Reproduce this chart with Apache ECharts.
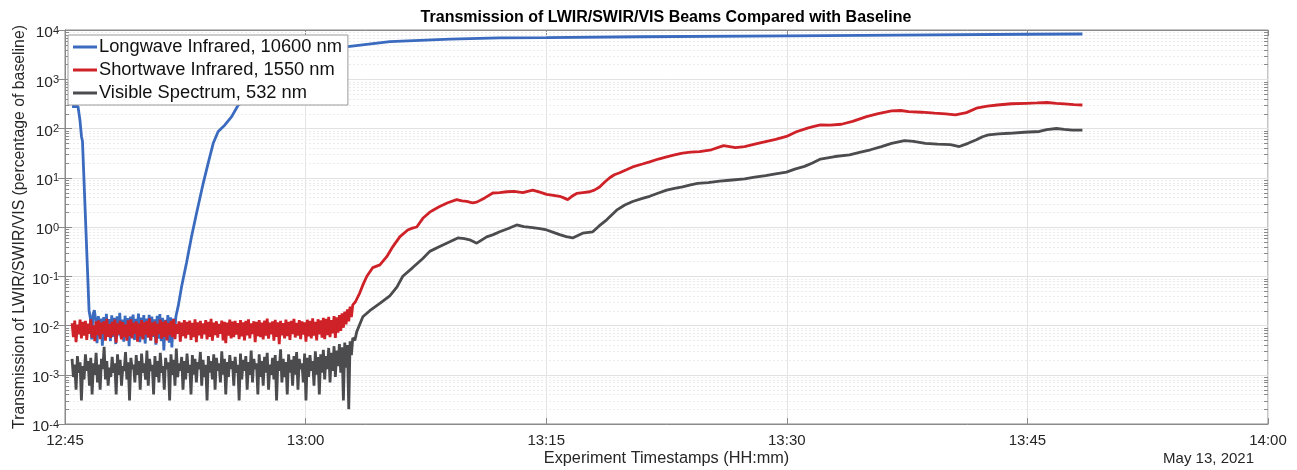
<!DOCTYPE html>
<html>
<head>
<meta charset="utf-8">
<script src="https://cdn.jsdelivr.net/npm/echarts@6/dist/echarts.min.js"></script>
<style>html,body{margin:0;padding:0;background:#fff}#main{width:1297px;height:470px}</style>
</head>
<body>
<div id="main"></div>
<script>
// x values are minutes after 12:45, y values are percent of baseline
var names = ['Longwave Infrared, 10600 nm', 'Shortwave Infrared, 1550 nm', 'Visible Spectrum, 532 nm'];
var colors = ['#3b6bbf', '#cf2128', '#4c4b4e'];
var STEP = 1 / 12; // logger sample spacing in the noisy part (5 s)

// LWIR
var blueHeadT = [0.44, 0.81, 0.93, 1.03, 1.09, 1.5];
var blueHeadV = [280, 280, 150, 68, 55, 0.02];
var blueNoiseStart = 1.58;
var blueNoiseV = [0.0142, 0.0052, 0.0168, 0.0205, 0.0131, 0.0044, 0.0155, 0.0061, 0.0138, 0.0039,
  0.0149, 0.0057, 0.0172, 0.0066, 0.0135, 0.0048, 0.0161, 0.0059, 0.0144, 0.0042,
  0.0153, 0.0063, 0.0181, 0.0055, 0.0132, 0.0047, 0.0158, 0.0062, 0.0141, 0.0038,
  0.0151, 0.0058, 0.0166, 0.0051, 0.0137, 0.0064, 0.0174, 0.0046, 0.0145, 0.0056,
  0.0162, 0.0043, 0.0139, 0.0061, 0.0165, 0.0050, 0.0152, 0.0059, 0.0134, 0.0041,
  0.0157, 0.0054, 0.0171, 0.0048, 0.0143, 0.0031, 0.0131, 0.0057, 0.0163, 0.0045,
  0.0147, 0.0036, 0.0138, 0.0072, 0.0152];
var blueTailT = [7.06, 7.27, 7.58, 7.89, 8.2, 8.62, 8.93, 9.24, 9.55, 9.97, 10.39, 10.8, 12.15, 13.4, 14.64,
  15.89, 17.63, 20.25, 24.0, 27.1, 30.0, 35.8, 45.0, 52.0, 60.0, 63.43];
var blueTailV = [0.025, 0.062, 0.19, 0.64, 1.9, 7.8, 20, 50, 87, 118, 174, 300, 600, 1100, 1900,
  3000, 4600, 5800, 6500, 6900, 7000, 7300, 7600, 7900, 8200, 8300];

// SWIR
var redNoiseStart = 0.44;
var redNoiseV = [0.0112, 0.0058, 0.0126, 0.0046, 0.0104, 0.0066, 0.0131, 0.0055, 0.0118, 0.0062,
  0.0124, 0.0051, 0.0109, 0.0068, 0.0133, 0.0057, 0.0101, 0.0048, 0.0121, 0.0064,
  0.0127, 0.0053, 0.0114, 0.0067, 0.0122, 0.0049, 0.0136, 0.0059, 0.0107, 0.0056,
  0.0119, 0.0063, 0.0132, 0.0045, 0.0111, 0.0066, 0.0125, 0.0052, 0.0117, 0.0058,
  0.0104, 0.0049, 0.0128, 0.0061, 0.0134, 0.0055, 0.0113, 0.0068, 0.0121, 0.0047,
  0.0109, 0.0060, 0.0129, 0.0052, 0.0116, 0.0065, 0.0124, 0.0057, 0.0139, 0.0050,
  0.0115, 0.0062, 0.0121, 0.0044, 0.0108, 0.0067, 0.0131, 0.0054, 0.0118, 0.0059,
  0.0126, 0.0050, 0.0112, 0.0064, 0.0124, 0.0058, 0.0135, 0.0053, 0.0107, 0.0068,
  0.0121, 0.0047, 0.0115, 0.0061, 0.0129, 0.0055, 0.0118, 0.0065, 0.0126, 0.0051,
  0.0113, 0.0058, 0.0133, 0.0046, 0.0116, 0.0063, 0.0124, 0.0054, 0.0111, 0.0066,
  0.0128, 0.0052, 0.0119, 0.0059, 0.0137, 0.0049, 0.0114, 0.0064, 0.0122, 0.0057,
  0.0108, 0.0068, 0.0126, 0.0050, 0.0118, 0.0044, 0.0115, 0.0062, 0.0131, 0.0055,
  0.0120, 0.0058, 0.0124, 0.0065, 0.0112, 0.0053, 0.0129, 0.0060, 0.0116, 0.0050,
  0.0125, 0.0063, 0.0133, 0.0055, 0.0110, 0.0067, 0.0122, 0.0046, 0.0118, 0.0061,
  0.0128, 0.0058, 0.0114, 0.0052, 0.0126, 0.0062, 0.0138, 0.0054, 0.0115, 0.0066,
  0.0121, 0.0049, 0.0130, 0.0059, 0.0116, 0.0042, 0.0124, 0.0063, 0.0112, 0.0055,
  0.0132, 0.0061, 0.0119, 0.0051, 0.0125, 0.0067, 0.0136, 0.0057, 0.0113, 0.0062,
  0.0128, 0.0053, 0.0121, 0.0065, 0.0116, 0.0047, 0.0131, 0.0060, 0.0124, 0.0055,
  0.0140, 0.0062, 0.0118, 0.0050, 0.0134, 0.0066, 0.0127, 0.0057, 0.0143, 0.0053,
  0.0136, 0.0064, 0.0150, 0.0058, 0.0129, 0.0069, 0.0156, 0.0056, 0.0146, 0.0072,
  0.0163, 0.0078, 0.0176, 0.0090, 0.0192, 0.0105, 0.0212, 0.0121, 0.0242, 0.0148,
  0.0262];
var redTailT = [18.1, 18.38, 18.6, 18.82, 19.19, 19.63, 20.06, 20.44, 20.87, 21.37,
  21.65, 21.93, 22.31, 22.74, 23.05, 23.36, 23.86, 24.42, 24.75, 25.05,
  25.4, 25.67, 26.17, 26.67, 27.1, 27.54, 28.0, 28.54, 28.85, 29.16,
  29.6, 30.03, 30.45, 30.84, 31.1, 31.34, 31.6, 31.9, 32.3, 32.71,
  33.0, 33.33, 33.65, 33.96, 34.25, 34.58, 35.0, 35.39, 36.0, 36.45,
  37.0, 37.51, 38.0, 38.5, 39.0, 39.56, 40.3, 41.06, 41.8, 42.37,
  43.0, 43.68, 44.3, 44.98, 45.6, 46.29, 46.7, 47.1, 47.7, 48.41,
  49.1, 49.97, 50.7, 51.53, 52.1, 52.59, 53.4, 54.2, 54.9, 55.51,
  56.2, 56.82, 57.5, 58.13, 59.0, 59.94, 60.6, 61.25, 61.8, 62.3,
  62.9, 63.43];
var redTailV = [0.03, 0.046, 0.07, 0.10, 0.15, 0.17, 0.25, 0.40, 0.63, 0.87,
  0.95, 1.0, 1.5, 2.0, 2.3, 2.6, 3.1, 3.6, 3.4, 3.3,
  3.1, 3.2, 3.9, 4.9, 5.0, 5.2, 5.3, 5.0, 5.3, 5.6,
  5.1, 4.6, 4.4, 4.2, 3.9, 3.6, 4.2, 4.8, 5.0, 5.2,
  5.6, 6.5, 8.2, 10, 11.5, 12.6, 14.5, 16.6, 19, 21,
  24, 26.5, 29, 31.6, 33, 34, 37, 45, 41, 43,
  48, 54, 60, 69, 86, 102, 110, 118, 117, 122,
  140, 174, 200, 228, 232, 220, 214, 205, 198, 190,
  210, 258, 285, 300, 318, 325, 330, 337, 325, 316,
  305, 300];

// VIS
var grayNoiseStart = 0.44;
var grayNoiseV = [0.0021, 0.0009, 0.0016, 0.0005, 0.0024, 0.0011, 0.0018, 0.0003, 0.0015, 0.0008,
  0.0026, 0.0012, 0.0019, 0.0006, 0.0022, 0.0004, 0.0017, 0.0010, 0.0028, 0.0007,
  0.0016, 0.0005, 0.0021, 0.0013, 0.0037, 0.0008, 0.0019, 0.0006, 0.0014, 0.0009,
  0.0023, 0.0011, 0.0017, 0.0004, 0.0026, 0.0010, 0.0020, 0.0006, 0.0015, 0.0012,
  0.0029, 0.0008, 0.0018, 0.0003, 0.0022, 0.0013, 0.0016, 0.0007, 0.0025, 0.0010,
  0.0019, 0.0005, 0.0027, 0.0011, 0.0017, 0.0008, 0.0031, 0.0006, 0.0021, 0.0012,
  0.0016, 0.0004, 0.0024, 0.0009, 0.0019, 0.0007, 0.0028, 0.0011, 0.0015, 0.0005,
  0.0022, 0.0013, 0.0018, 0.0003, 0.0026, 0.0010, 0.0020, 0.0006, 0.0034, 0.0009,
  0.0017, 0.0012, 0.0023, 0.0005, 0.0019, 0.0008, 0.0027, 0.0011, 0.0016, 0.0004,
  0.0025, 0.0010, 0.0021, 0.0007, 0.0018, 0.0013, 0.0029, 0.0006, 0.0020, 0.0009,
  0.0016, 0.0003, 0.0024, 0.0011, 0.0019, 0.0008, 0.0026, 0.0005, 0.0022, 0.0012,
  0.0017, 0.0007, 0.0030, 0.0010, 0.0021, 0.0004, 0.0018, 0.0009, 0.0025, 0.0013,
  0.0019, 0.0006, 0.0023, 0.0011, 0.0016, 0.0003, 0.0027, 0.0008, 0.0020, 0.0012,
  0.0024, 0.0005, 0.0018, 0.0010, 0.0031, 0.0007, 0.0021, 0.0013, 0.0017, 0.0004,
  0.0026, 0.0009, 0.0019, 0.0006, 0.0023, 0.0011, 0.0028, 0.0005, 0.0016, 0.0010,
  0.0022, 0.0008, 0.0025, 0.0003, 0.0019, 0.0012, 0.0033, 0.0007, 0.0021, 0.0009,
  0.0018, 0.0004, 0.0026, 0.0011, 0.0020, 0.0006, 0.0024, 0.0010, 0.0029, 0.0005,
  0.0021, 0.0013, 0.0017, 0.0007, 0.0027, 0.0003, 0.0022, 0.0009, 0.0025, 0.0012,
  0.0019, 0.0006, 0.0030, 0.0010, 0.0023, 0.0004, 0.0026, 0.0011, 0.0032, 0.0008,
  0.0024, 0.0013, 0.0035, 0.0007, 0.0028, 0.0012, 0.0038, 0.0009, 0.0031, 0.0015,
  0.0042, 0.0011, 0.0036, 0.0003, 0.0045, 0.0014, 0.0040, 0.0002, 0.0048, 0.0025,
  0.0056];
var grayTailT = [18.07, 18.19, 18.57, 19.0, 19.63, 20.25, 20.69, 21.06, 21.68, 22.31,
  22.74, 23.36, 23.99, 24.49, 24.9, 25.23, 25.67, 26.29, 26.7, 27.1,
  27.6, 28.16, 28.6, 29.16, 29.6, 30.03, 30.45, 30.84, 31.25, 31.65,
  32.27, 32.9, 33.3, 33.77, 34.39, 34.9, 35.39, 36.0, 36.45, 37.0,
  37.51, 38.0, 38.5, 39.0, 39.44, 40.1, 40.81, 41.6, 42.37, 43.0,
  43.68, 44.3, 44.98, 45.5, 46.1, 46.6, 47.1, 48.0, 48.91, 49.6,
  50.22, 50.9, 51.53, 52.34, 52.9, 53.64, 54.4, 55.2, 55.76, 56.3,
  56.82, 57.2, 57.57, 58.2, 58.88, 59.8, 60.75, 61.2, 61.81, 62.3,
  62.8, 63.43];
var grayTailV = [0.005, 0.0075, 0.015, 0.02, 0.028, 0.04, 0.06, 0.1, 0.15, 0.23,
  0.32, 0.4, 0.5, 0.6, 0.58, 0.55, 0.47, 0.63, 0.7, 0.8,
  0.92, 1.1, 1.02, 0.97, 0.93, 0.87, 0.78, 0.7, 0.64, 0.6,
  0.75, 0.8, 1.05, 1.4, 2.2, 2.8, 3.3, 3.8, 4.2, 4.9,
  5.6, 6.1, 6.5, 7.2, 7.7, 8.0, 8.5, 9.0, 9.5, 10.3,
  11, 12, 13, 15, 17, 20, 24, 27, 29, 33,
  37, 43, 50, 57, 55, 50, 48, 47, 43, 50,
  59, 68, 74, 78, 80, 84, 87, 95, 100, 96,
  93, 93];

var xTicks = [0, 15, 30, 45, 60, 75];

function pairs(ts, vs) { return ts.map(function (t, i) { return [t, vs[i]]; }); }
function sampled(start, vs) { return vs.map(function (v, i) { return [start + i * STEP, v]; }); }

var blueData = pairs(blueHeadT, blueHeadV).concat(sampled(blueNoiseStart, blueNoiseV), pairs(blueTailT, blueTailV));
var redData = sampled(redNoiseStart, redNoiseV).concat(pairs(redTailT, redTailV));
var grayData = sampled(grayNoiseStart, grayNoiseV).concat(pairs(grayTailT, grayTailV));

// log minor grid values 2..9 per decade
var minorVals = [];
for (var e = -4; e < 4; e++) {
  for (var k = 2; k <= 9; k++) minorVals.push([0, +(k * Math.pow(10, e)).toPrecision(3)]);
}

var FONT = 'Liberation Sans';
var axisGray = '#8a8a8a';
var txt = '#262626';

function hhmm(v) {
  var m = 12 * 60 + 45 + v;
  var h = Math.floor(m / 60), mm = Math.round(m % 60);
  return h + ':' + (mm < 10 ? '0' : '') + mm;
}

var chart = echarts.init(document.getElementById('main'));
var option = {
  animation: false,
  textStyle: { fontFamily: FONT },
  grid: { left: 65, right: 29, top: 30, bottom: 46, containLabel: false, outerBoundsMode: 'none',
    show: true, borderColor: axisGray, borderWidth: 1 },
  legend: {
    data: names, orient: 'vertical', left: 68, top: 35,
    icon: 'rect', itemWidth: 24, itemHeight: 3, itemGap: 5,
    backgroundColor: '#fff', borderColor: '#9a9a9a', borderWidth: 1, borderRadius: 0,
    padding: [3, 6, 3, 5],
    textStyle: { fontSize: 18.3, lineHeight: 18, color: '#111', fontFamily: FONT, padding: [0, 0, 0, -3] }
  },
  graphic: [
    { type: 'text', x: 666, y: 18, style: { text: 'Transmission of LWIR/SWIR/VIS Beams Compared with Baseline',
      font: 'bold 16px "Liberation Sans"', fill: '#000', textAlign: 'center', textVerticalAlign: 'middle' } },
    { type: 'text', x: 1254, y: 459, style: { text: 'May 13, 2021',
      font: '15px "Liberation Sans"', fill: txt, textAlign: 'right', textVerticalAlign: 'middle' } }
  ],
  xAxis: [{
    type: 'value', min: 0, max: 75, interval: 15,
    name: 'Experiment Timestamps (HH:mm)', nameLocation: 'middle', nameGap: 27, nameMoveOverlap: false,
    nameTextStyle: { fontSize: 16.3, color: txt },
    axisLine: { lineStyle: { color: axisGray } },
    axisTick: { inside: true, length: 6, lineStyle: { color: axisGray } },
    axisLabel: { fontSize: 15, color: txt, margin: 9, formatter: hhmm, customValues: xTicks },
    splitLine: { show: true, lineStyle: { color: '#e4e4e4', width: 1 } }
  }, {
    type: 'value', min: 0, max: 75, interval: 15, position: 'top',
    axisLine: { lineStyle: { color: axisGray } },
    axisTick: { inside: true, length: 6, lineStyle: { color: axisGray } },
    axisLabel: { show: false }, splitLine: { show: false }
  }],
  yAxis: [{
    type: 'log', logBase: 10, min: 1e-4, max: 1e4, interval: 1,
    name: 'Transmission of LWIR/SWIR/VIS (percentage of baseline)', nameLocation: 'middle', nameGap: 37, nameMoveOverlap: false,
    nameTextStyle: { fontSize: 15.8, color: txt },
    axisLine: { show: true, lineStyle: { color: axisGray } },
    axisTick: { inside: true, length: 7, lineStyle: { color: axisGray } },
    axisLabel: {
      margin: 6, color: txt, padding: [6, 0, 0, 0],
      formatter: function (v) { return '{b|10}{e|' + Math.round(Math.log10(v)) + '}'; },
      rich: { b: { fontSize: 15.5, lineHeight: 16, color: txt }, e: { fontSize: 11, lineHeight: 9, verticalAlign: 'top', color: txt } }
    },
    splitLine: { show: true, lineStyle: { color: '#e2e2e2', width: 1 } }
  }, {
    type: 'log', logBase: 10, min: 1e-4, max: 1e4, interval: 1, position: 'right',
    axisLine: { show: true, lineStyle: { color: axisGray } },
    axisTick: { inside: true, length: 7, lineStyle: { color: axisGray } },
    axisLabel: { show: false }, splitLine: { show: false }
  }],
  series: [
    {
      type: 'custom', silent: true, z: 1, xAxisIndex: 0, yAxisIndex: 0, data: minorVals,
      renderItem: function (params, api) {
        var cs = params.coordSys;
        var y = Math.round(api.coord([0, api.value(1)])[1]) + 0.5;
        return { type: 'group', children: [
          { type: 'line', shape: { x1: cs.x, y1: y, x2: cs.x + cs.width, y2: y }, style: { stroke: '#ececec', lineWidth: 1, lineDash: [2, 2] } },
          { type: 'line', shape: { x1: cs.x, y1: y, x2: cs.x + 4, y2: y }, style: { stroke: axisGray, lineWidth: 1 } },
          { type: 'line', shape: { x1: cs.x + cs.width - 4, y1: y, x2: cs.x + cs.width, y2: y }, style: { stroke: axisGray, lineWidth: 1 } }
        ] };
      }
    },
    { name: names[0], type: 'line', data: blueData, showSymbol: false, z: 3, color: colors[0], lineStyle: { width: 2.8, color: colors[0] } },
    { name: names[1], type: 'line', data: redData, showSymbol: false, z: 4, color: colors[1], lineStyle: { width: 2.8, color: colors[1] } },
    { name: names[2], type: 'line', data: grayData, showSymbol: false, z: 5, color: colors[2], lineStyle: { width: 2.8, color: colors[2] } }
  ]
};
chart.setOption(option);
</script>
</body>
</html>
